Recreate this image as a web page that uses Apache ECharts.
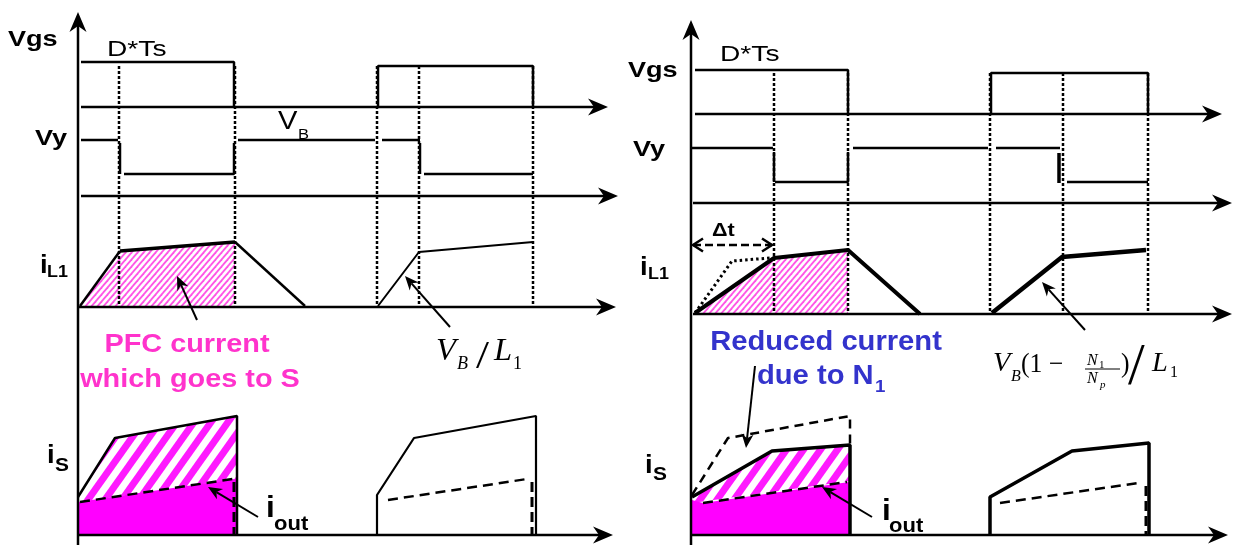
<!DOCTYPE html>
<html><head><meta charset="utf-8">
<script src="https://cdn.jsdelivr.net/npm/echarts@6/dist/echarts.min.js"></script>
<style>html,body{margin:0;padding:0;background:#fff}#c{width:1241px;height:550px}</style>
</head><body><div id="c"></div>
<script>
// ===== Diagram data (time units on x, level units on y, y grows downward) =====
// Left panel
const L_vgs1 = [[81,62],[234,62],[234,107]];
const L_vgs2 = [[378,107],[378,66],[533,66],[533,107]];
const L_vy1 = [[81,140],[118,140]];
const L_vy1drop = [[120,143],[120,174]];
const L_vy1low = [[124,174],[234,174],[234,143]];
const L_vy2 = [[238,140],[375,140]];
const L_vy3 = [[382,140],[420,140]];
const L_vy3drop = [[420,143],[420,174]];
const L_vy3low = [[424,174],[533,174]];
const L_il1Rise = [[80,306],[120,251]];
const L_il1Top = [[120,251],[235,242]];
const L_il1Fall = [[235,242],[305,306]];
const L_il1b = [[378,306],[419,252],[533,242]];
const L_is1 = [[78,497],[115,438],[237,416],[237,535]];
const L_is1out = [[80,502],[233,479]];
const L_is1outEdge = [[234,482],[234,535]];
const L_is2 = [[377,535],[377,495],[414,438],[536,416],[536,535]];
const L_is2out = [[388,500],[527,479]];
const L_is2outEdge = [[532,482],[532,535]];
const L_marks = [119, 235, 377, 419, 533];
const L_markSpan = [66, 307];
const L_axisY = [[78,545],[78,12]];
const L_axisVgs = [[81,107],[608,107]];
const L_axisVy = [[81,196],[618,196]];
const L_axisIL = [[78,307],[616,307]];
const L_axisIS = [[78,535],[613,535]];
const L_ptrPFC = [[197,320],[177,276]];
const L_ptrVB = [[450,327],[405,276]];
const L_ptrOut = [[258,517],[208,487]];
const L_hatchIL = [[80,306],[120,251],[235,242],[235,306]];
const L_hatchIS = [[78,497],[115,438],[237,416],[237,479],[80,502]];
const L_fillOut = [[78,502],[234,479],[236,479],[236,535],[78,535]];

// Right panel
const R_vgs1 = [[695,70],[848,70],[848,114]];
const R_vgs2 = [[991,114],[991,73],[1148,73],[1148,114]];
const R_vy1 = [[691,148],[773,148]];
const R_vy1drop = [[774,152],[774,182]];
const R_vy1low = [[775,182],[848,182],[848,152]];
const R_vy2 = [[853,148],[988,148]];
const R_vy3 = [[996,148],[1060,148]];
const R_vy3drop = [[1059,153],[1059,183]];
const R_vy3low = [[1067,182],[1148,182]];
const R_marks = [774, 848, 990, 1063, 1148];
const R_markSpan = [73, 314];
const R_il1a = [[695,313],[774,258],[848,250],[920,314]];
const R_il1dot = [[695,313],[732,261],[770,258]];
const R_il1b = [[992,313],[1062,257],[1146,250]];
const R_dt = [[693,245],[772,245]];
const R_is1 = [[692,497],[772,451],[850,445],[850,535]];
const R_is1red = [[692,495],[728,438],[850,416],[850,446]];
const R_is1out = [[703,503],[847,482]];
const R_is2 = [[990,535],[990,497],[1072,451],[1149,443],[1149,535]];
const R_is2out = [[1000,503],[1138,483]];
const R_is2outEdge = [[1146,486],[1146,535]];
const R_axisY = [[691,545],[691,20]];
const R_axisVgs = [[695,114],[1222,114]];
const R_axisVy = [[693,203],[1232,203]];
const R_axisIL = [[693,314],[1232,314]];
const R_axisIS = [[691,535],[1228,535]];
const R_ptrVB = [[1085,330],[1042,282]];
const R_ptrRed = [[755,366],[746,448]];
const R_ptrOut = [[872,517],[822,487]];
const R_hatchIL = [[695,313],[774,258],[848,250],[848,314]];
const R_hatchIS = [[692,497],[772,451],[850,445],[850,481],[692,503]];
const R_fillOut = [[692,500],[703,503],[849,482],[849,535],[692,535]];
const R_fracBar = [[1085,369],[1120,369]];

// Labels: [text, x, y, style]
const labels = [
  ['Vgs', 8, 40, 'axisLbl'],
  ['D*Ts', 107, 50, 'reg'],
  ['Vy', 35, 139, 'axisLbl'],
  ['V', 278, 122, 'regBig'],
  ['B', 298, 135, 'regSub'],
  ['i', 40, 266, 'iBig'],
  ['L1', 47, 273, 'sub'],
  ['i', 47, 456, 'iBig'],
  ['S', 55, 466, 'subS'],
  ['PFC current', 187, 345, 'pink'],
  ['which goes to S', 190, 380, 'pink'],
  ['i', 266, 509, 'iOut'],
  ['out', 274, 524, 'outSub'],
  ['V', 436, 352, 'mathI'],
  ['B', 457, 364, 'mathISub'],
  ['/', 476, 358, 'mathSlash'],
  ['L', 494, 352, 'mathI'],
  ['1', 513, 364, 'mathSub'],
  ['Vgs', 628, 71, 'axisLbl'],
  ['D*Ts', 720, 55, 'reg'],
  ['Vy', 633, 150, 'axisLbl'],
  ['Δt', 712, 231, 'dt'],
  ['i', 640, 268, 'iBig'],
  ['L1', 648, 275, 'sub'],
  ['Reduced current', 826, 343, 'blue'],
  ['due to N', 757, 377, 'blueL'],
  ['1', 875, 387, 'blueSub'],
  ['i', 645, 466, 'iBig'],
  ['S', 653, 475, 'subS'],
  ['i', 882, 512, 'iOut'],
  ['out', 889, 526, 'outSub'],
  ['V', 993, 364, 'mathI2'],
  ['B', 1011, 377, 'mathISub2'],
  ['(1 \u2212', 1021, 365, 'mathR2'],
  ['N', 1087, 361, 'mathFracI'],
  ['1', 1099, 365, 'mathFracSub'],
  ['N', 1087, 379, 'mathFracI'],
  ['p', 1100, 385, 'mathFracSubI'],
  [')', 1121, 365, 'mathR2'],
  ['/', 1128, 368, 'mathSlash2'],
  ['L', 1152, 364, 'mathI2'],
  ['1', 1170, 373, 'mathSub2']
];

// ===== Styles =====
const SANS = '"Liberation Sans", Arial, sans-serif';
const SERIF = '"Liberation Serif", "Times New Roman", serif';
const TS = {
  axisLbl: {fontSize:22, fontWeight:'bold', sx:1.23},
  reg: {fontSize:22, sx:1.28},
  regBig: {fontSize:26, sx:1.12},
  regSub: {fontSize:15, sx:1.1},
  iBig: {fontSize:25, fontWeight:'bold', sx:1.1},
  sub: {fontSize:16, fontWeight:'bold', sx:1.12},
  subS: {fontSize:19, fontWeight:'bold', sx:1.1},
  pink: {fontSize:26, fontWeight:'bold', color:'#ff33cc', align:'center', sx:1.11},
  iOut: {fontSize:30, fontWeight:'bold', sx:1.05},
  outSub: {fontSize:20, fontWeight:'bold', sx:1.1},
  blue: {fontSize:27, fontWeight:'bold', color:'#3333cc', align:'center', sx:1.08},
  blueL: {fontSize:27, fontWeight:'bold', color:'#3333cc', sx:1.08},
  blueSub: {fontSize:17, fontWeight:'bold', color:'#3333cc', sx:1.1},
  dt: {fontSize:18, fontWeight:'bold', sx:1.2},
  mathI: {fontSize:31, fontStyle:'italic', family:SERIF, sx:1.05},
  mathISub: {fontSize:18, fontStyle:'italic', family:SERIF},
  mathSub: {fontSize:18, family:SERIF},
  mathSlash: {fontSize:39, family:SERIF, sx:1.2},
  mathI2: {fontSize:27, fontStyle:'italic', family:SERIF, sx:1.05},
  mathISub2: {fontSize:16, fontStyle:'italic', family:SERIF},
  mathR2: {fontSize:27, family:SERIF, sx:0.95},
  mathFracI: {fontSize:16, fontStyle:'italic', family:SERIF},
  mathFracSub: {fontSize:11, family:SERIF},
  mathFracSubI: {fontSize:11, fontStyle:'italic', family:SERIF},
  mathSlash2: {fontSize:60, family:SERIF, sx:1.0},
  mathSub2: {fontSize:16, family:SERIF}
};

function makeHatch(w, h, lw, color) {
  const c = document.createElement('canvas');
  c.width = w; c.height = h;
  const g = c.getContext('2d');
  g.fillStyle = '#ffffff'; g.fillRect(0, 0, w, h);
  g.strokeStyle = color; g.lineWidth = lw;
  for (let k = -2; k <= 2; k++) {
    g.beginPath(); g.moveTo(k * w - w, 2 * h); g.lineTo(k * w + 2 * w, -h); g.stroke();
  }
  return c;
}
const fineHatch = {image: makeHatch(6, 7, 1.8, '#ff55e6'), repeat: 'repeat'};
const boldHatch = {image: makeHatch(17, 24, 7, '#ff1aff'), repeat: 'repeat'};

const series = [];
function line(pts, w, type, z) {
  series.push({type:'line', data:pts, showSymbol:false, symbol:'none', silent:true,
    animation:false, z: z || 3, lineStyle:{color:'#000', width:w, type: type || 'solid'}});
}
function poly(pts, fill) {
  series.push({type:'custom', coordinateSystem:'cartesian2d', data:pts, encode:{x:0, y:1},
    silent:true, animation:false, z:1,
    renderItem:(params, api) => params.dataIndex !== 0 ? null :
      {type:'polygon', shape:{points: pts.map(p => api.coord(p))}, style:{fill: fill, stroke:null}}});
}
function headPts(a, b, L, W) {
  const dx = b[0]-a[0], dy = b[1]-a[1], d = Math.hypot(dx, dy);
  const ux = dx/d, uy = dy/d, nx = -uy, ny = ux;
  const cx = b[0]-L*ux, cy = b[1]-L*uy;
  return {head:[b, [cx+W/2*nx, cy+W/2*ny], [b[0]-0.7*L*ux, b[1]-0.7*L*uy], [cx-W/2*nx, cy-W/2*ny]],
          notch:[b[0]-0.7*L*ux, b[1]-0.7*L*uy]};
}
function arrow(pts, w, L, W) {
  series.push({type:'custom', coordinateSystem:'cartesian2d', data:pts, encode:{x:0, y:1},
    silent:true, animation:false, z:4,
    renderItem:(params, api) => {
      if (params.dataIndex !== 0) return null;
      const P = pts.map(p => api.coord(p));
      const h = headPts(P[P.length-2], P[P.length-1], L, W);
      const body = P.slice(0, -1).concat([h.notch]);
      return {type:'group', children:[
        {type:'polyline', shape:{points: body}, style:{stroke:'#000', lineWidth:w, fill:null}},
        {type:'polygon', shape:{points: h.head}, style:{fill:'#000'}}]};
    }});
}
function openArrow2(pts, w, L, W, dash) {
  series.push({type:'custom', coordinateSystem:'cartesian2d', data:pts, encode:{x:0, y:1},
    silent:true, animation:false, z:4,
    renderItem:(params, api) => {
      if (params.dataIndex !== 0) return null;
      const a = api.coord(pts[0]), b = api.coord(pts[1]);
      const h1 = headPts(a, b, L, W).head, h2 = headPts(b, a, L, W).head;
      return {type:'group', children:[
        {type:'polyline', shape:{points:[a, b]}, style:{stroke:'#000', lineWidth:w, fill:null, lineDash:dash}},
        {type:'polyline', shape:{points:[h1[1], h1[0], h1[3]]}, style:{stroke:'#000', lineWidth:w, fill:null}},
        {type:'polyline', shape:{points:[h2[1], h2[0], h2[3]]}, style:{stroke:'#000', lineWidth:w, fill:null}}]};
    }});
}

// fills
poly(L_hatchIL, fineHatch); poly(L_hatchIS, boldHatch); poly(L_fillOut, '#ff00ff');
poly(R_hatchIL, fineHatch); poly(R_hatchIS, boldHatch); poly(R_fillOut, '#ff00ff');

// dotted markers
L_marks.forEach(x => line([[x, L_markSpan[0]], [x, L_markSpan[1]]], 2.5, [3, 2]));
R_marks.forEach(x => line([[x, R_markSpan[0]], [x, R_markSpan[1]]], 2.5, [3, 2]));

// left waveforms
[L_vgs1, L_vgs2, L_vy1, L_vy1drop, L_vy1low, L_vy2, L_vy3, L_vy3drop, L_vy3low].forEach(p => line(p, 2.5));
line(L_il1Rise, 2.5); line(L_il1Top, 3.5); line(L_il1Fall, 2.5); line(L_il1b, 2);
line(L_is1, 2.5); line(L_is2, 2.2);
line(L_is1out, 2.5, [10, 6]); line(L_is1outEdge, 3, [10, 5]);
line(L_is2out, 2.5, [10, 6]); line(L_is2outEdge, 3, [10, 5]);

// right waveforms
[R_vgs1, R_vgs2, R_vy1, R_vy1drop, R_vy1low, R_vy2, R_vy3, R_vy3low].forEach(p => line(p, 2.5));
line(R_vy3drop, 3.5);
line(R_il1a, 4); line(R_il1b, 4.5); line(R_il1dot, 3, [2.5, 3]);
line(R_is1, 3.5); line(R_is2, 3.5);
line(R_is1red, 2.5, [9, 6]);
line(R_is1out, 2.5, [10, 6]); line(R_is2out, 2.5, [10, 6]); line(R_is2outEdge, 3, [10, 5]);
line(R_fracBar, 1);

// axes and pointers
[L_axisY, L_axisVgs, L_axisVy, L_axisIL, L_axisIS, R_axisY, R_axisVgs, R_axisVy, R_axisIL, R_axisIS]
  .forEach(p => arrow(p, 2.5, 20, 17));
[L_ptrPFC, L_ptrVB, L_ptrOut, R_ptrVB, R_ptrRed, R_ptrOut].forEach(p => arrow(p, 2, 14, 12));
openArrow2(R_dt, 2.5, 10, 13, [8, 4]);

// labels
series.push({type:'custom', coordinateSystem:'cartesian2d', data: labels.map(l => [l[1], l[2]]),
  encode:{x:0, y:1}, silent:true, animation:false, z:6,
  renderItem:(params, api) => {
    const l = labels[params.dataIndex], st = TS[l[3]];
    const p = api.coord([l[1], l[2]]);
    return {type:'text', x:p[0], y:p[1], scaleX: st.sx || 1, scaleY: 1,
      style:{text:l[0], fontSize:st.fontSize, fontWeight:st.fontWeight || 'normal',
        fontStyle:st.fontStyle || 'normal', fontFamily: st.family || SANS,
        fill: st.color || '#000', textAlign: st.align || 'left', textVerticalAlign:'middle'}};
  }});

const chart = echarts.init(document.getElementById('c'), null, {renderer:'canvas'});
chart.setOption({
  animation:false,
  backgroundColor:'#fff',
  grid:{left:0, right:0, top:0, bottom:0, containLabel:false},
  xAxis:{type:'value', min:0, max:1241, show:false},
  yAxis:{type:'value', min:0, max:550, inverse:true, show:false},
  series: series
});
</script></body></html>
